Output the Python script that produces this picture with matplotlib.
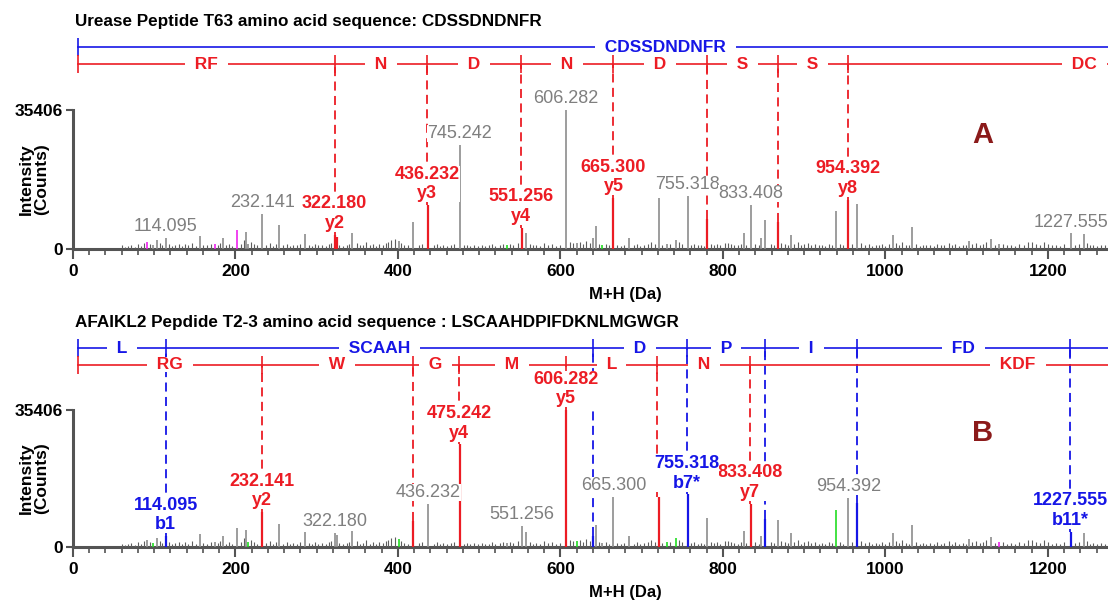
import numpy as np
import matplotlib.pyplot as plt
from matplotlib.ticker import MultipleLocator
import matplotlib.transforms as mtransforms

plt.rcParams['font.family'] = ['Liberation Sans', 'DejaVu Sans']

# one MALDI scan, annotated twice (panel A and panel B)
peak_mz = [91, 99, 103, 114.1, 156, 175, 185, 202, 213, 216,
           233, 254, 285, 322.2, 324.5, 344, 401, 419, 437, 476,
           534, 553, 558, 606.3, 620, 640.3, 644, 651, 665.3, 685,
           721, 731, 742, 757, 780.3, 826, 834, 847, 852.4, 867.4,
           884, 939, 954.4, 965.5, 1009, 1033, 1103, 1130, 1140, 1228,
           1244]
peak_int = [1800, 1000, 2400, 2800, 3300, 1300, 2900, 4900, 4400, 1300,
            9000, 6000, 3900, 3600, 3000, 4200, 2000, 6800, 11200, 26500,
            1000, 5400, 4000, 35406, 1500, 2900, 5800, 1000, 13000, 2800,
            12900, 1200, 2200, 13600, 7600, 4200, 11200, 2800, 7300, 7000,
            3500, 9600, 12600, 11500, 3600, 5700, 2100, 2500, 1200, 4000,
            3700]

noise_mz = [60, 64, 68, 72, 76, 80, 84, 87, 95, 107,
            110, 118, 122, 126, 130, 134, 138, 142, 147, 151,
            160, 165, 170, 178, 181, 188, 192, 196, 207, 210,
            219, 223, 227, 238, 242, 246, 250, 259, 263, 267,
            271, 276, 280, 290, 294, 298, 302, 306, 311, 315,
            318, 328, 332, 337, 340, 349, 353, 357, 361, 365,
            369, 373, 377, 381, 385, 388, 392, 396, 404, 408,
            412, 426, 430, 444, 448, 452, 456, 460, 465, 469,
            481, 485, 489, 494, 498, 503, 507, 512, 516, 520,
            525, 529, 538, 541, 548, 562, 566, 570, 575, 580,
            585, 590, 595, 600, 612, 616, 624, 628, 632, 636,
            648, 656, 660, 670, 674, 678, 690, 694, 698, 703,
            708, 712, 716, 725, 735, 746, 750, 761, 765, 769,
            773, 777, 785, 789, 793, 797, 802, 806, 810, 814,
            818, 822, 829, 840, 844, 859, 863, 872, 876, 880,
            888, 892, 896, 900, 905, 909, 913, 918, 922, 926,
            930, 934, 944, 948, 959, 970, 975, 980, 984, 988,
            992, 996, 1000, 1004, 1013, 1017, 1021, 1025, 1029, 1038,
            1042, 1046, 1050, 1055, 1060, 1064, 1068, 1072, 1078, 1082,
            1086, 1090, 1095, 1099, 1107, 1112, 1116, 1120, 1124, 1135,
            1145, 1150, 1155, 1160, 1165, 1170, 1175, 1180, 1185, 1190,
            1195, 1200, 1205, 1210, 1215, 1220, 1233, 1238, 1248, 1252,
            1256, 1260, 1265, 1270]
noise_int = [900, 500, 700, 1100, 600, 1300, 800, 1500, 1200, 1600,
             1100, 1300, 800, 1000, 1400, 700, 1200, 900, 1500, 800,
             1100, 900, 1300, 1000, 1600, 900, 1200, 800, 1400, 2200,
             1800, 1200, 900, 1000, 1500, 800, 1200, 900, 1300, 700,
             1100, 900, 1400, 1000, 700, 1300, 900, 1100, 800, 1200,
             1600, 1100, 800, 1000, 1300, 1500, 900, 1100, 1700, 900,
             1200, 800, 1400, 1100, 1600, 1900, 2200, 2600, 1500, 1100,
             900, 1000, 1300, 900, 1200, 800, 1100, 700, 1000, 1300,
             900, 1100, 700, 1000, 800, 1100, 700, 900, 1200, 800,
             1000, 1400, 1200, 1000, 1500, 1300, 900, 1100, 800, 1500,
             1000, 1200, 800, 1000, 1800, 1600, 1700, 1200, 2000, 1600,
             1200, 1300, 900, 1100, 800, 1000, 900, 1200, 800, 1100,
             1400, 1700, 1200, 1100, 1300, 1800, 1200, 1000, 1300, 900,
             1100, 800, 1400, 1000, 1300, 900, 1500, 1600, 1200, 1100,
             900, 1400, 1100, 1300, 900, 1400, 1000, 1600, 1200, 1000,
             1300, 1700, 900, 1200, 1500, 1000, 1300, 900, 1100, 800,
             1200, 1000, 1400, 900, 1300, 1500, 1000, 1200, 800, 1100,
             900, 1200, 800, 1300, 1600, 1000, 1800, 1100, 900, 1200,
             800, 1100, 900, 1000, 800, 1200, 900, 1000, 1600, 900,
             1200, 800, 1100, 900, 1200, 1500, 1000, 1300, 1800, 1100,
             1300, 900, 1100, 800, 1200, 1000, 1700, 1900, 1300, 1100,
             1800, 1200, 900, 1100, 800, 1300, 1000, 1200, 1600, 900,
             1100, 800, 1000, 900]

top_counts = 35406
x_max = 1274
ladder_start = 6

# panel A: urease T63
a_title = "Urease Peptide T63 amino acid sequence: CDSSDNDNFR"
a_y_ions = [322.180, 436.232, 551.256, 665.300, 780.327, 867.359, 954.392]
a_y_names = ['y2', 'y3', 'y4', 'y5', '', '', 'y8']
a_red_segments = ['RF', 'N', 'D', 'N', 'D', 'S', 'S', 'DC']
a_red_end = 1536
a_b_ions = []
a_b_names = []
a_blue_segments = ['CDSSDNDNFR']
a_blue_end = 1452
a_grey_at = [114.1, 233, 476, 606.3, 757, 834, 1228]
a_grey_text = ['114.095', '232.141', '745.242', '606.282', '755.318', '833.408', '1227.555']
a_magenta = [91, 175, 202]
a_green = [534, 651]

# panel B: AFAIKL2 T2-3
b_title = "AFAIKL2 Pepdide T2-3 amino acid sequence : LSCAAHDPIFDKNLMGWGR"
b_y_ions = [232.141, 418.220, 475.242, 606.282, 719.366, 833.408]
b_y_names = ['y2', '', 'y4', 'y5', '', 'y7']
b_red_segments = ['RG', 'W', 'G', 'M', 'L', 'N', 'KDF']
b_red_end = 1493
b_b_ions = [114.095, 640.300, 755.318, 852.371, 965.455, 1227.555]
b_b_names = ['b1', '', 'b7*', '', '', 'b11*']
b_blue_segments = ['L', 'SCAAH', 'D', 'P', 'I', 'FD', '']
b_blue_end = 1500
b_grey_at = [322.2, 437, 553, 665.3, 954.4]
b_grey_text = ['322.180', '436.232', '551.256', '665.300', '954.392']
b_magenta = [1140]
b_green = [99, 216, 401, 620, 731, 742, 939]

RED = '#ec1c24'
BLUE = '#1616e6'
GREY = '#8c8c8c'
AXIS = '#545454'
W = 1108
H = 609
TOP = 1.58        # ylim as multiple of the max count
BLUE_LVL = 1.45
RED_LVL = 1.33


def nearest(mz):
    i = int(np.argmin(np.abs(np.array(peak_mz) - mz)))
    return peak_int[i]


def ladder(ax, ions, segments, end, level, color):
    edges = [ladder_start] + list(ions) + [end]
    ax.plot([ladder_start, end], [level, level], color=color, lw=1.2, zorder=3)
    ax.plot(edges[:-1], [level] * (len(edges) - 1), ls='none', marker='|',
            ms=13, mew=1.2, color=color, zorder=3)
    for lab, x0, x1 in zip(segments, edges[:-1], edges[1:]):
        if lab:
            ax.text((x0 + x1) / 2, level, '  ' + lab + '  ', ha='center', va='center',
                    color=color, fontsize=12.5, fontweight='bold', zorder=4, clip_on=True,
                    bbox=dict(boxstyle='square,pad=0', fc='white', ec='none'))


def ion_marks(ax, ions, names, level, color):
    for ion, name in zip(ions, names):
        h = nearest(ion)
        ax.vlines(ion, h, level, colors=color, linestyles=(0, (5, 3)), lw=1.3, zorder=2)
        if name:
            ax.annotate('%.3f\n%s' % (ion, name), xy=(ion, h), xytext=(0, 2),
                        textcoords='offset points', ha='center', va='bottom',
                        color=color, fontsize=13, fontweight='bold', zorder=4,
                        bbox=dict(boxstyle='square,pad=0', fc='white', ec='none'))


def panel(bottom_px, scale_px, title, y_ions, y_names, red_segs, red_end,
          b_ions, b_names, blue_segs, blue_end, grey_at, grey_text,
          magenta, green, letter):
    height_px = TOP * scale_px
    ax = fig.add_axes([73 / W, (H - bottom_px) / H, (W - 73) / W, height_px / H])
    ax.set_xlim(0, x_max)
    ax.set_ylim(0, top_counts * TOP)

    ax.vlines(noise_mz, 0, noise_int, colors='#5e5e5e', lw=0.8, zorder=3)

    cols = []
    widths = []
    for mz in peak_mz:
        c, lw = GREY, 1.2
        if any(abs(mz - m) < 0.6 for m in magenta):
            c = '#ee22ee'
        if any(abs(mz - m) < 0.6 for m in green):
            c = '#22dd22'
        if any(abs(mz - m) < 3 for m in y_ions):
            c, lw = RED, 1.6
        if any(abs(mz - m) < 3 for m in b_ions):
            c, lw = BLUE, 1.6
        cols.append(c)
        widths.append(lw)
    ax.vlines(peak_mz, 0, peak_int, colors=cols, linewidths=widths, zorder=3)

    ladder(ax, b_ions, blue_segs, blue_end, top_counts * BLUE_LVL, BLUE)
    ladder(ax, y_ions, red_segs, red_end, top_counts * RED_LVL, RED)
    ion_marks(ax, y_ions, y_names, top_counts * RED_LVL, RED)
    ion_marks(ax, b_ions, b_names, top_counts * BLUE_LVL, BLUE)

    for at, txt in zip(grey_at, grey_text):
        ax.annotate(txt, xy=(at, nearest(at)), xytext=(0, 2), textcoords='offset points',
                    ha='center', va='bottom', color='#7f7f7f', fontsize=13, zorder=4,
                    bbox=dict(boxstyle='square,pad=0', fc='white', ec='none'))

    for s in ['top', 'right']:
        ax.spines[s].set_visible(False)
    for s in ['left', 'bottom']:
        ax.spines[s].set_color(AXIS)
        ax.spines[s].set_linewidth(2.2)
    ax.spines['left'].set_bounds(0, top_counts)
    ax.set_yticks([0, top_counts])
    ax.set_yticklabels(['0', str(top_counts)])
    ax.xaxis.set_major_locator(MultipleLocator(200))
    ax.xaxis.set_minor_locator(MultipleLocator(20))
    ax.tick_params(axis='x', which='major', length=7, width=1.5, color=AXIS, pad=4)
    ax.tick_params(axis='x', which='minor', length=4, width=1.2, color=AXIS)
    ax.tick_params(axis='y', length=5, width=1.5, color=AXIS, pad=2)
    for lab in ax.get_xticklabels() + ax.get_yticklabels():
        lab.set_fontweight('bold')
        lab.set_fontsize(12.5)

    trans = mtransforms.blended_transform_factory(ax.transAxes, ax.transData)
    ax.text(-39 / (W - 73), top_counts / 2, 'Intensity\n(Counts)', transform=trans,
            rotation=90, ha='center', va='center', fontsize=12.5, fontweight='bold',
            linespacing=1.0)

    top_px = bottom_px - height_px
    fig.text(75 / W, 1 - (top_px - 8) / H, title, fontsize=12.3, fontweight='bold', va='center')
    fig.text(625 / W, 1 - (bottom_px + 45) / H, 'M+H (Da)', fontsize=12, fontweight='bold',
             ha='center', va='center')
    fig.text(983 / W, 1 - (bottom_px - 114) / H, letter, fontsize=21, fontweight='bold',
             color='#8b1a1a', ha='center', va='center')
    return ax


fig = plt.figure(figsize=(W / 100, H / 100), dpi=100)
panel(249, 139, a_title, a_y_ions, a_y_names, a_red_segments, a_red_end,
      a_b_ions, a_b_names, a_blue_segments, a_blue_end, a_grey_at, a_grey_text,
      a_magenta, a_green, 'A')
panel(547, 137, b_title, b_y_ions, b_y_names, b_red_segments, b_red_end,
      b_b_ions, b_b_names, b_blue_segments, b_blue_end, b_grey_at, b_grey_text,
      b_magenta, b_green, 'B')

fig.savefig('out.png', dpi=100)
